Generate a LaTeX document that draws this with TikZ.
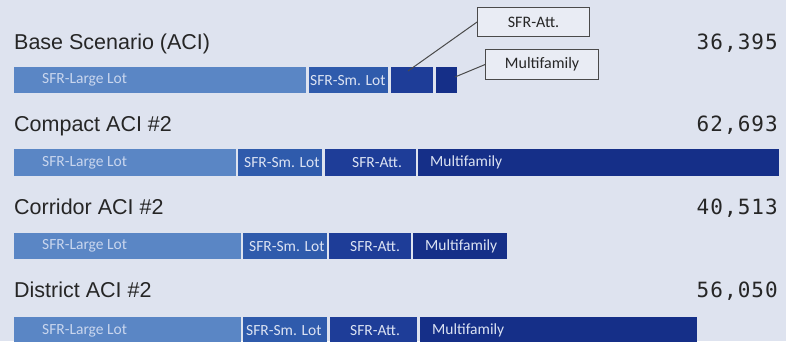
\documentclass[tikz,border=0pt]{standalone}
\usepackage{fontspec}
\setmainfont{Liberation Sans}
\newfontfamily\barfont{Carlito}
\newfontfamily\numfont[LetterSpace=5]{DejaVu Sans Mono}
\definecolor{bgc}{HTML}{DEE3EF}
\definecolor{llc}{HTML}{5A86C5}
\definecolor{slc}{HTML}{2F5BAC}
\definecolor{atc}{HTML}{1E3D98}
\definecolor{mfc}{HTML}{152F88}
\definecolor{lltx}{HTML}{C9D6EE}
\definecolor{dktx}{HTML}{DCE3F3}
\definecolor{titletx}{HTML}{262626}
\definecolor{boxfill}{HTML}{E9ECF4}
\definecolor{boxline}{HTML}{4A4A4A}
\tikzset{
  title/.style={anchor=base west, inner sep=0pt, text=titletx, font=\fontsize{21.5}{24}\selectfont},
  total/.style={anchor=base east, inner sep=0pt, text=titletx, font=\numfont\fontsize{21}{24}\selectfont},
  seg/.style={anchor=north west, inner sep=0pt, font=\barfont\fontsize{15.5}{18}\selectfont},
  callbox/.style={draw=boxline, line width=1.1pt, fill=boxfill, inner sep=0pt, text=titletx,
    font=\barfont\fontsize{16}{19}\selectfont},
  callline/.style={draw=boxline, line width=1pt}
}
% \barseg{name}{x}{y}{w}{h}{fill}{textcolour}{offset}{text}
\newcommand{\barseg}[9]{%
  \node[seg, fill=#6, text=#7, minimum height=#5pt] (#1) at (#2,#3)
    {\makebox[#4pt][l]{\hspace{#8pt}#9}};}
\begin{document}
\begin{tikzpicture}[x=1pt,y=-1pt]
\fill[bgc] (0,0) rectangle (786,341);
\useasboundingbox (0,0) rectangle (786,341);

% Row 1
\node[title] (t1) at (14,49) {Base Scenario (ACI)};
\node[total] (n1) at (778,49) {36,395};
\barseg{r1a}{14}{67}{292}{26}{llc}{lltx}{28}{SFR-Large Lot}
\barseg{r1b}{309}{67}{79}{26}{slc}{dktx}{1}{SFR-Sm. Lot}
\barseg{r1c}{391}{67}{42}{26}{atc}{dktx}{0}{}
\barseg{r1d}{436}{67}{21}{26}{mfc}{dktx}{0}{}
\node[callbox, minimum width=112pt, minimum height=29pt, anchor=north west] (attbox) at (477,7) {SFR-Att.};
\node[callbox, minimum width=113pt, minimum height=30pt, anchor=north west] (mfbox) at (485,49) {Multifamily};
\coordinate (p1) at (408,71);
\coordinate (p2) at (455,77);
\draw[callline] (p1) -- (attbox.west);
\draw[callline] (p2) -- (mfbox.west);

% Row 2
\node[title] (t2) at (14,131.5) {Compact ACI \#2};
\node[total] (n2) at (778,131.5) {62,693};
\barseg{r2a}{14}{149}{222}{27}{llc}{lltx}{28}{SFR-Large Lot}
\barseg{r2b}{238}{149}{84}{27}{slc}{dktx}{6}{SFR-Sm. Lot}
\barseg{r2c}{325}{149}{91}{27}{atc}{dktx}{27}{SFR-Att.}
\barseg{r2d}{418}{149}{361}{27}{mfc}{dktx}{12}{Multifamily}

% Row 3
\node[title] (t3) at (14,214.5) {Corridor ACI \#2};
\node[total] (n3) at (778,214.5) {40,513};
\barseg{r3a}{14}{233}{227}{26}{llc}{lltx}{28}{SFR-Large Lot}
\barseg{r3b}{243}{233}{84}{26}{slc}{dktx}{6}{SFR-Sm. Lot}
\barseg{r3c}{329}{233}{82}{26}{atc}{dktx}{21}{SFR-Att.}
\barseg{r3d}{413}{233}{94}{26}{mfc}{dktx}{12}{Multifamily}

% Row 4
\node[title] (t4) at (14,297) {District ACI \#2};
\node[total] (n4) at (778,297) {56,050};
\barseg{r4a}{14}{317}{227}{27}{llc}{lltx}{28}{SFR-Large Lot}
\barseg{r4b}{243}{317}{84}{27}{slc}{dktx}{3}{SFR-Sm. Lot}
\barseg{r4c}{330}{317}{87}{27}{atc}{dktx}{20}{SFR-Att.}
\barseg{r4d}{420}{317}{277}{27}{mfc}{dktx}{12}{Multifamily}
\end{tikzpicture}
\end{document}
